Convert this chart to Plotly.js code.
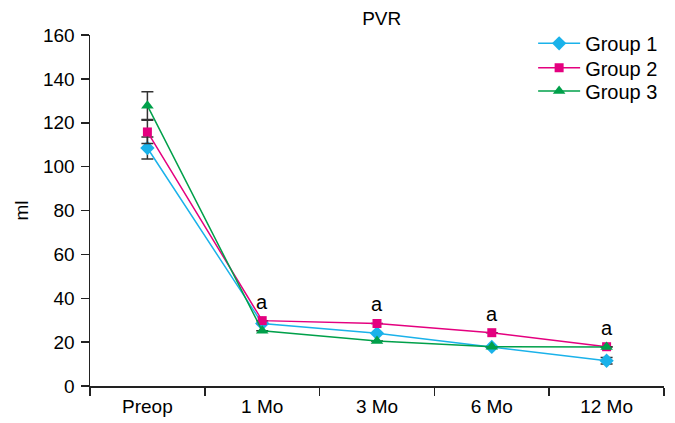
<!DOCTYPE html>
<html>
<head>
<meta charset="utf-8">
<script src="https://cdn.plot.ly/plotly-3.0.1.min.js"></script>
<style>html,body{margin:0;padding:0;background:#fff;}#chart{width:675px;height:423px;}</style>
</head>
<body>
<div id="chart"></div>
<script>
const categories = ["Preop", "1 Mo", "3 Mo", "6 Mo", "12 Mo"];
const group1 = [108.5, 28.5, 24.0, 17.8, 11.5];
const group2 = [115.8, 29.8, 28.5, 24.3, 17.9];
const group3 = [127.8, 25.2, 20.5, 17.9, 17.8];
const group1Err = [5.0, 0, 0, 0, 1.5];
const group2Err = [5.3, 0, 0, 0, 0];
const group3Err = [6.3, 0, 0, 0, 0];
const sigLabels = ["", "a", "a", "a", "a"];

const font = "Liberation Sans, Arial, sans-serif";
function trace(name, y, err, color, symbol, size, leg) {
  return {
    x: categories, y: y, name: name, type: "scatter", mode: "lines+markers", legend: leg,
    line: {color: color, width: 1.5},
    marker: {color: color, symbol: symbol, size: size},
    error_y: {type: "data", array: err, visible: true, color: "#333", thickness: 1.5, width: 6}
  };
}
const data = [
  trace("Group 1", group1, group1Err, "#1ab2ea", "diamond", 11, "legend"),
  trace("Group 2", group2, group2Err, "#e4007f", "square", 9, "legend2"),
  trace("Group 3", group3, group3Err, "#00a04a", "triangle-up", 11, "legend3")
];
const annotations = [];
categories.forEach((c, i) => {
  if (sigLabels[i]) {
    annotations.push({x: c, y: group2[i], text: sigLabels[i], showarrow: false,
      yanchor: "bottom", yshift: 6, font: {family: font, size: 20, color: "#000"}});
  }
});
function leg(y) {
  return {x: 0.772, xanchor: "left", y: y, yanchor: "middle", bgcolor: "rgba(0,0,0,0)",
    font: {family: font, size: 20}, itemwidth: 42};
}
const layout = {
  width: 675, height: 423,
  margin: {l: 90, r: 11, t: 35, b: 37},
  paper_bgcolor: "#fff", plot_bgcolor: "#fff",
  font: {family: font, size: 19, color: "#000"},
  title: {text: "PVR", x: 0.5655, xanchor: "center", y: 0.956, yanchor: "middle", font: {family: font, size: 19, color: "#000"}},
  xaxis: {
    type: "category", range: [-0.5, 4.5], showline: true, linecolor: "#222", linewidth: 1.5,
    ticks: "outside", tickson: "boundaries", ticklen: 8, tickcolor: "#222", tickwidth: 1.5,
    showgrid: false, zeroline: false, tickfont: {family: font, size: 19}, ticklabelstandoff: 3
  },
  yaxis: {
    range: [0, 160], dtick: 20, showline: true, linecolor: "#222", linewidth: 1.5,
    ticks: "outside", ticklen: 8, tickcolor: "#222", tickwidth: 1.5,
    showgrid: false, zeroline: false, tickfont: {family: font, size: 19}, ticklabelstandoff: 2,
    title: {text: "ml", font: {family: font, size: 19}, standoff: 9}
  },
  legend: leg(0.9764),
  legend2: leg(0.9068),
  legend3: leg(0.8405),
  showlegend: true,
  annotations: annotations
};
Plotly.newPlot("chart", data, layout, {displayModeBar: false, staticPlot: true});
</script>
</body>
</html>
